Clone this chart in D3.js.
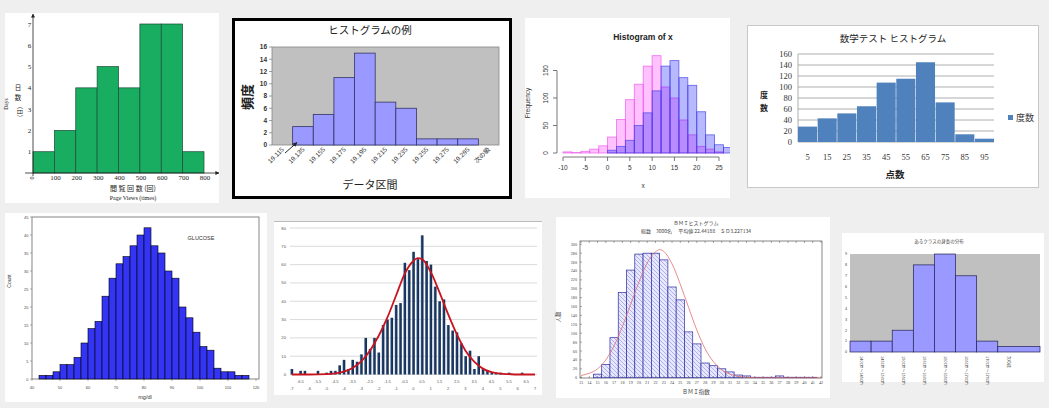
<!DOCTYPE html>
<html><head><meta charset="utf-8">
<script src="https://cdn.jsdelivr.net/npm/d3@7"></script>
<style>body{margin:0;background:#efefef;overflow:hidden} svg{display:block}</style>
</head><body><svg id="c" width="1049" height="408"></svg>
<script>
// ---------- Panel 1: page views ----------
const p1Edges = [0,100,200,300,400,500,600,700,800];
const p1Counts = [1,2,4,5,4,7,7,1];
const p1YTicks = [1,2,3,4,5,6,7];
const p1XTicks = [100,200,300,400,500,600,700,800];
// ---------- Panel 2: ヒストグラムの例 ----------
const p2Cats = ["19.115","19.135","19.155","19.175","19.195","19.215","19.235","19.255","19.275","19.295","次の級"];
const p2Counts = [0,3,5,11,15,7,6,1,1,1,0];
const p2YTicks = [0,2,4,6,8,10,12,14,16];
// ---------- Panel 3: Histogram of x ----------
const p3BinStarts = [-10,-8,-6,-4,-2,0,2,4,6,8,10,12,14,16,18,20,22,24,26];
const p3Pink = [2,1,3,7,13,29,61,97,125,158,177,120,100,60,33,12,7,2,0];
const p3Blue = [0,0,0,0,0,5,12,23,50,73,113,158,168,137,123,75,33,15,10];
const p3YTicks = [0,50,100,150];
const p3XTicks = [-10,-5,0,5,10,15,20,25];
// ---------- Panel 4: 数学テスト ----------
const p4Cats = ["5","15","25","35","45","55","65","75","85","95"];
const p4Counts = [28,43,52,65,108,115,145,72,14,6];
const p4YTicks = [0,20,40,60,80,100,120,140,160];
// ---------- Panel 5: GLUCOSE ----------
const p5BinStarts = [42.5,45,47.5,50,52.5,55,57.5,60,62.5,65,67.5,70,72.5,75,77.5,80,82.5,85,87.5,90,92.5,95,97.5,100,102.5,105,107.5,110,112.5,115];
const p5Counts = [1,1,2,4,4,6,10,14,16,23,28,32,34,37,40,42,37,35,30,28,20,17,13,9,8,3,2,2,1,1];
const p5YTicks = [0,5,10,15,20,25,30,35,40,45];
const p5XTicks = [40,50,60,70,80,90,100,110,120];
// ---------- Panel 6: normal sample ----------
const p6Centers = [-7,-6.75,-6.5,-6.25,-6,-5.75,-5.5,-5.25,-5,-4.75,-4.5,-4.25,-4,-3.75,-3.5,-3.25,-3,-2.75,-2.5,-2.25,-2,-1.75,-1.5,-1.25,-1,-0.75,-0.5,-0.25,0,0.25,0.5,0.75,1,1.25,1.5,1.75,2,2.25,2.5,2.75,3,3.25,3.5,3.75,4,4.25,4.5,4.75,5,5.25,5.5,5.75,6,6.25,6.5,6.75];
const p6Counts = [3,0,2,2,0,0,2,0,1,2,2,5,8,3,8,7,11,20,14,20,12,27,30,31,38,39,61,57,67,63,76,62,60,48,40,41,27,24,23,17,10,13,3,10,3,2,1,1,1,0,1,0,0,1,0,0];
const p6CurveX = [-7,-6,-5,-4.5,-4,-3.5,-3,-2.5,-2,-1.5,-1,-0.5,0,0.25,0.5,1,1.5,2,2.5,3,3.5,4,4.5,5,5.5,6,7];
const p6CurveY = [0,0,0.2,0.6,1.6,3.6,7.2,13,21,31,43,55,62,63.5,63,56,45,33,22,13,7,3.2,1.3,0.5,0.2,0,0];
const p6YTicks = [0,10,20,30,40,50,60,70,80];
const p6XMajor = [-7,-6,-5,-4,-3,-2,-1,0,1,2,3,4,5,6,7];
const p6XHalf = [-6.5,-5.5,-4.5,-3.5,-2.5,-1.5,-0.5,0.5,1.5,2.5,3.5,4.5,5.5,6.5];
// ---------- Panel 7: BMI ----------
const p7Centers = [13,14,15,16,17,18,19,20,21,22,23,24,25,26,27,28,29,30,31,32,33,34,35,36,37,38,39,40,41];
const p7Counts = [0,0,8,30,90,192,242,278,280,280,265,204,175,103,76,33,27,20,13,6,4,1,1,1,4,1,1,1,1];
const p7CurveX = [13,14,15,16,17,18,19,20,21,22,22.5,23,24,25,26,27,28,29,30,31,32,33,35,42];
const p7CurveY = [5,10,20,40,72,115,165,215,258,283,288,284,256,210,158,107,65,36,18,8,3,1,0,0];
const p7YTicks = [0,20,40,60,80,100,120,140,160,180,200,220,240,260,280,300];
const p7XTicks = [13,14,15,16,17,18,19,20,21,22,23,24,25,26,27,28,29,30,31,32,33,34,35,36,37,38,39,40,41,42];
// ---------- Panel 8: 身長の分布 ----------
const p8Cats = ["140cm～145cm","145cm～150cm","150cm～155cm","155cm～160cm","160cm～165cm","165cm～170cm","170cm～175cm","次の級",""];
const p8Counts = [1,1,2,8,9,7,1,0.5];
const p8YTicks = [0,1,2,3,4,5,6,7,8,9];

const svg = d3.select("#c");
const JP = "'Noto Sans CJK JP', sans-serif";
const SANS = "'Liberation Sans', Arial, sans-serif";
const SERIF = "'Liberation Serif', serif";
svg.append("rect").attr("width",1049).attr("height",408).attr("fill","#efefef");
const defs = svg.append("defs");
function marker(id, color){
  defs.append("marker").attr("id",id).attr("viewBox","0 0 10 10").attr("refX",9).attr("refY",5)
    .attr("markerWidth",5).attr("markerHeight",5).attr("orient","auto")
    .append("path").attr("d","M0,0L10,5L0,10z").attr("fill",color);
}
marker("arr","#222");
const grad = defs.append("linearGradient").attr("id","p6g").attr("x1",0).attr("x2",1).attr("y1",0).attr("y2",0);
grad.append("stop").attr("offset","0%").attr("stop-color","#a9bedb");
grad.append("stop").attr("offset","35%").attr("stop-color","#1f3d68");
grad.append("stop").attr("offset","100%").attr("stop-color","#142b4d");
const pat = defs.append("pattern").attr("id","hatch").attr("patternUnits","userSpaceOnUse").attr("width",4).attr("height",4);
pat.append("rect").attr("width",4).attr("height",4).attr("fill","#e8e8fc");
pat.append("path").attr("d","M-1,-1L5,5M-1,3L1,5M3,-1L5,1").attr("stroke","#8c8ce8").attr("stroke-width",0.6);

function card(x,y,w,h,stroke){
  svg.append("rect").attr("x",x).attr("y",y).attr("width",w).attr("height",h)
    .attr("fill","#fff").attr("stroke",stroke||"none").attr("stroke-width",1);
}
function txt(g,x,y,s,size,opts){
  opts=opts||{};
  const t=g.append("text").attr("x",x).attr("y",y).text(s).attr("font-size",size)
    .attr("font-family",opts.font||SANS).attr("text-anchor",opts.anchor||"middle")
    .attr("fill",opts.fill||"#222");
  if(opts.weight) t.attr("font-weight",opts.weight);
  if(opts.rotate!==undefined) t.attr("transform",`rotate(${opts.rotate},${x},${y})`);
  return t;
}

// ===== Panel 1 =====
{
  card(5,13,214,190);
  const g = svg.append("g");
  const x = d3.scaleLinear().domain([0,800]).range([33,204]);
  const y = d3.scaleLinear().domain([0,7]).range([173,24]);
  g.selectAll("rect").data(p1Counts).join("rect")
    .attr("x",(d,i)=>x(p1Edges[i])).attr("width",(d,i)=>x(p1Edges[i+1])-x(p1Edges[i]))
    .attr("y",d=>y(d)).attr("height",d=>y(0)-y(d))
    .attr("fill","#19ad61").attr("stroke","#1d4a36").attr("stroke-width",0.7);
  g.append("line").attr("x1",x(0)).attr("x2",x(0)).attr("y1",y(0)+3).attr("y2",14)
    .attr("stroke","#222").attr("stroke-width",0.8).attr("marker-end","url(#arr)");
  g.append("line").attr("x1",25).attr("x2",219).attr("y1",y(0)).attr("y2",y(0))
    .attr("stroke","#222").attr("stroke-width",0.8).attr("marker-end","url(#arr)");
  p1YTicks.forEach(v=>txt(g,29.5,y(v)+2.5,v,7,{font:SERIF}));
  p1XTicks.forEach(v=>txt(g,x(v)+1,180,v,7,{font:SERIF}));
  txt(g,30,178,"0",6,{font:SERIF,rotate:90});
  txt(g,18,90,"日",6.5,{font:JP});
  txt(g,18,100,"数",6.5,{font:JP});
  txt(g,18,112,"(日)",6,{font:JP,rotate:90});
  txt(g,8,104,"Days",5.5,{font:SERIF,rotate:-90});
  txt(g,133,191,"閲 覧 回 数  (回)",7,{font:JP});
  txt(g,133,200,"Page Views (times)",6,{font:SERIF});
}

// ===== Panel 2 =====
{
  svg.append("rect").attr("x",233.5).attr("y",19.5).attr("width",277).attr("height",178)
    .attr("fill","#fff").attr("stroke","#000").attr("stroke-width",3);
  const g = svg.append("g");
  const x = d3.scaleBand().domain(p2Cats).range([272,499]);
  const y = d3.scaleLinear().domain([0,16]).range([145,47]);
  g.append("rect").attr("x",272).attr("y",47).attr("width",227).attr("height",98)
    .attr("fill","#c0c0c0").attr("stroke","#888").attr("stroke-width",0.8);
  g.selectAll("rect.b").data(p2Counts).join("rect").attr("class","b")
    .attr("x",(d,i)=>x(p2Cats[i])).attr("width",x.bandwidth())
    .attr("y",d=>y(d)).attr("height",d=>y(0)-y(d))
    .attr("fill","#9999ff").attr("stroke","#333366").attr("stroke-width",0.8)
    .attr("display",d=>d>0?null:"none");
  p2YTicks.forEach(v=>{
    txt(g,267,y(v)+2.3,v,6.5,{anchor:"end",weight:"bold",fill:"#333"});
    g.append("line").attr("x1",269).attr("x2",272).attr("y1",y(v)).attr("y2",y(v)).attr("stroke","#666").attr("stroke-width",0.6);
  });
  p2Cats.forEach(c=>{
    const cx = x(c)+x.bandwidth()/2 + 2, cy = 150;
    txt(g,cx,cy,c,6.5,{anchor:"end",rotate:-45,font:c==="次の級"?JP:SANS,fill:"#333"});
  });
  g.append("line").attr("x1",285).attr("y1",153).attr("x2",297).attr("y2",142.5)
    .attr("stroke","#111").attr("stroke-width",0.9).attr("marker-end","url(#arr)");
  txt(g,370,34,"ヒストグラムの例",10.5,{font:JP});
  txt(g,252,97,"頻度",13,{font:JP,weight:"bold",rotate:-90});
  txt(g,370,189,"データ区間",11,{font:JP});
}

// ===== Panel 3 =====
{
  card(525,18,205,180);
  const g = svg.append("g");
  const clip = defs.append("clipPath").attr("id","c3"); clip.append("rect").attr("x",525).attr("y",18).attr("width",205).attr("height",180);
  const x = d3.scaleLinear().domain([-10,25]).range([563,719]);
  const y = d3.scaleLinear().domain([0,150]).range([153,70.5]);
  const bars = g.append("g").attr("clip-path","url(#c3)");
  bars.selectAll("rect.p").data(p3Pink).join("rect").attr("class","p")
    .attr("x",(d,i)=>x(p3BinStarts[i])).attr("width",(d,i)=>x(p3BinStarts[i]+2)-x(p3BinStarts[i]))
    .attr("y",d=>y(d)).attr("height",d=>y(0)-y(d))
    .attr("fill","rgba(255,0,255,0.24)").attr("stroke","rgba(235,90,235,0.75)").attr("stroke-width",0.9)
    .attr("display",d=>d>0?null:"none");
  bars.selectAll("rect.q").data(p3Blue).join("rect").attr("class","q")
    .attr("x",(d,i)=>x(p3BinStarts[i])).attr("width",(d,i)=>x(p3BinStarts[i]+2)-x(p3BinStarts[i]))
    .attr("y",d=>y(d)).attr("height",d=>y(0)-y(d))
    .attr("fill","rgba(0,0,255,0.28)").attr("stroke","rgba(70,70,230,0.75)").attr("stroke-width",0.9)
    .attr("display",d=>d>0?null:"none");
  g.append("line").attr("x1",557).attr("x2",557).attr("y1",y(0)).attr("y2",y(150)).attr("stroke","#555").attr("stroke-width",0.8);
  p3YTicks.forEach(v=>{
    g.append("line").attr("x1",553).attr("x2",557).attr("y1",y(v)).attr("y2",y(v)).attr("stroke","#555").attr("stroke-width",0.8);
    txt(g,548,y(v),v,6.5,{rotate:-90,fill:"#333"});
  });
  g.append("line").attr("x1",x(-10)).attr("x2",x(25)).attr("y1",157).attr("y2",157).attr("stroke","#555").attr("stroke-width",0.8);
  p3XTicks.forEach(v=>{
    g.append("line").attr("x1",x(v)).attr("x2",x(v)).attr("y1",157).attr("y2",161).attr("stroke","#555").attr("stroke-width",0.8);
    txt(g,x(v),170,v,6.5,{fill:"#333"});
  });
  txt(g,643,40,"Histogram of x",8.5,{weight:"bold"});
  txt(g,643,188,"x",6.5,{fill:"#333"});
  txt(g,530,103,"Frequency",6.5,{rotate:-90,fill:"#333"});
}

// ===== Panel 4 =====
{
  card(747.5,25.5,291,162,"#c8c8c8");
  const g = svg.append("g");
  const x = d3.scaleBand().domain(p4Cats).range([798,994]).paddingInner(0.03);
  const y = d3.scaleLinear().domain([0,160]).range([142,54]);
  p4YTicks.forEach(v=>{
    g.append("line").attr("x1",798).attr("x2",994).attr("y1",y(v)).attr("y2",y(v)).attr("stroke","#999").attr("stroke-width",0.8);
    txt(g,792,y(v)+3,v,8.5,{anchor:"end",font:SERIF,fill:"#333"});
  });
  g.append("line").attr("x1",798).attr("x2",798).attr("y1",54).attr("y2",142).attr("stroke","#999").attr("stroke-width",0.8);
  g.selectAll("rect").data(p4Counts).join("rect")
    .attr("x",(d,i)=>x(p4Cats[i])).attr("width",x.bandwidth())
    .attr("y",d=>y(d)).attr("height",d=>y(0)-y(d)).attr("fill","#4f81bd");
  p4Cats.forEach(c=>txt(g,x(c)+x.bandwidth()/2,160,c,8.5,{font:SERIF,fill:"#333"}));
  txt(g,893,42,"数学テスト ヒストグラム",9.5,{font:JP});
  txt(g,895,178,"点数",9.5,{font:JP,weight:"bold"});
  txt(g,764,98,"度",8,{font:JP,weight:"bold"});
  txt(g,764,111,"数",8,{font:JP,weight:"bold"});
  g.append("rect").attr("x",1008).attr("y",115).attr("width",5).attr("height",5).attr("fill","#4f81bd");
  txt(g,1016,121,"度数",9,{font:JP,anchor:"start",fill:"#333"});
}

// ===== Panel 5 =====
{
  card(5,213,262,189);
  const g = svg.append("g");
  const x = d3.scaleLinear().domain([40,120]).range([32,256]);
  const y = d3.scaleLinear().domain([0,45]).range([379,217]);
  g.append("rect").attr("x",32).attr("y",217).attr("width",227).attr("height",162).attr("fill","none").attr("stroke","#666").attr("stroke-width",0.8);
  g.selectAll("rect.b").data(p5Counts).join("rect").attr("class","b")
    .attr("x",(d,i)=>x(p5BinStarts[i])).attr("width",(d,i)=>x(p5BinStarts[i]+2.5)-x(p5BinStarts[i]))
    .attr("y",d=>y(d)).attr("height",d=>y(0)-y(d))
    .attr("fill","#3434f4").attr("stroke","#000").attr("stroke-width",0.6);
  p5YTicks.forEach(v=>{
    g.append("line").attr("x1",30).attr("x2",32).attr("y1",y(v)).attr("y2",y(v)).attr("stroke","#666").attr("stroke-width",0.5);
    txt(g,28.5,y(v)+1.5,v,4,{anchor:"end",fill:"#444"});
  });
  p5XTicks.forEach(v=>{
    g.append("line").attr("x1",x(v)).attr("x2",x(v)).attr("y1",379).attr("y2",381).attr("stroke","#666").attr("stroke-width",0.5);
    txt(g,x(v),389,v,4,{fill:"#444"});
  });
  txt(g,201,240,"GLUCOSE",5.5,{fill:"#333"});
  txt(g,145,399,"mg/dl",5.5,{fill:"#333"});
  txt(g,11,281,"Count",5,{rotate:-90,fill:"#333"});
}

// ===== Panel 6 =====
{
  card(274,221,268,174);
  svg.append("line").attr("x1",274).attr("x2",542).attr("y1",221.5).attr("y2",221.5).attr("stroke","#bbb");
  const g = svg.append("g");
  const x = d3.scaleLinear().domain([-7,7]).range([291.7,535]);
  const y = d3.scaleLinear().domain([0,80]).range([374.5,228]);
  p6YTicks.forEach(v=>{
    g.append("line").attr("x1",290).attr("x2",537).attr("y1",y(v)).attr("y2",y(v)).attr("stroke","#d0d0d0").attr("stroke-width",0.8);
    txt(g,286,y(v)+1.5,v,4.2,{anchor:"end",fill:"#555"});
  });
  const bw = x(0.17)-x(0);
  g.selectAll("rect").data(p6Counts).join("rect")
    .attr("x",(d,i)=>x(p6Centers[i])-bw/2).attr("width",bw)
    .attr("y",d=>y(d)).attr("height",d=>y(0)-y(d)).attr("fill","url(#p6g)")
    .attr("display",d=>d>0?null:"none");
  const line = d3.line().x(d=>x(d[0])).y(d=>y(d[1])).curve(d3.curveMonotoneX);
  g.append("path").attr("d",line(p6CurveX.map((v,i)=>[v,p6CurveY[i]])))
    .attr("fill","none").attr("stroke","#c8141e").attr("stroke-width",1.8);
  p6XHalf.forEach(v=>txt(g,x(v),383,v,4,{fill:"#555"}));
  p6XMajor.forEach(v=>txt(g,x(v),389.5,v,4,{fill:"#555"}));
}

// ===== Panel 7 =====
{
  card(556,217,274,181);
  const g = svg.append("g");
  const x = d3.scaleLinear().domain([13,42]).range([581,821]);
  const y = d3.scaleLinear().domain([0,300]).range([377.7,244.3]);
  g.append("rect").attr("x",580).attr("y",241).attr("width",242).attr("height",137).attr("fill","none").attr("stroke","#555").attr("stroke-width",0.7);
  g.selectAll("rect.b").data(p7Counts).join("rect").attr("class","b")
    .attr("x",(d,i)=>x(p7Centers[i]-0.5)).attr("width",(d,i)=>x(p7Centers[i]+0.5)-x(p7Centers[i]-0.5))
    .attr("y",d=>y(d)).attr("height",d=>y(0)-y(d))
    .attr("fill","url(#hatch)").attr("stroke","#2a2aa0").attr("stroke-width",0.7)
    .attr("display",d=>d>0?null:"none");
  const line = d3.line().x(d=>x(d[0])).y(d=>y(d[1])).curve(d3.curveMonotoneX);
  g.append("path").attr("d",line(p7CurveX.map((v,i)=>[v,p7CurveY[i]])))
    .attr("fill","none").attr("stroke","#e07070").attr("stroke-width",0.8);
  p7YTicks.forEach(v=>{
    g.append("line").attr("x1",580).attr("x2",582).attr("y1",y(v)).attr("y2",y(v)).attr("stroke","#555").attr("stroke-width",0.5);
    txt(g,577,y(v)+1.5,v,4.2,{anchor:"end",fill:"#444",font:SERIF});
  });
  p7XTicks.forEach(v=>{
    g.append("line").attr("x1",x(v)).attr("x2",x(v)).attr("y1",241).attr("y2",243).attr("stroke","#555").attr("stroke-width",0.5);
    g.append("line").attr("x1",x(v)).attr("x2",x(v)).attr("y1",376).attr("y2",378).attr("stroke","#555").attr("stroke-width",0.5);
    txt(g,x(v),384,v,4.2,{fill:"#444",font:SERIF});
  });
  txt(g,696,225,"ＢＭＩヒストグラム",5,{font:JP,fill:"#444"});
  txt(g,696,233,"総数　3000名　 平均値 22.44188　ＳＤ3.227134",5,{font:JP,fill:"#444"});
  txt(g,560,317,"人数",5.5,{font:JP,rotate:-90,fill:"#444"});
  txt(g,696,394,"ＢＭＩ指数",5.5,{font:JP,fill:"#444"});
}

// ===== Panel 8 =====
{
  card(842,233,202,149);
  const g = svg.append("g");
  const x = d3.scaleBand().domain(p8Cats).range([850,1040]);
  const y = d3.scaleLinear().domain([0,9]).range([352,254]);
  g.append("rect").attr("x",850).attr("y",254).attr("width",190).attr("height",98).attr("fill","#c0c0c0");
  g.selectAll("rect.b").data(p8Counts).join("rect").attr("class","b")
    .attr("x",(d,i)=>x(p8Cats[i])).attr("width",(d,i)=>i===p8Counts.length-1?1040-x(p8Cats[i]):x.bandwidth())
    .attr("y",d=>y(d)).attr("height",d=>y(0)-y(d))
    .attr("fill","#9999ff").attr("stroke","#222255").attr("stroke-width",0.7);
  p8YTicks.forEach(v=>txt(g,847,y(v)+1.3,v,3.8,{anchor:"end",fill:"#444"}));
  p8Cats.forEach(c=>{ if(c) txt(g,x(c)+x.bandwidth()/2-1,356,c,4,{font:JP,anchor:"start",rotate:90,fill:"#444"}); });
  txt(g,939,243,"あるクラスの身長の分布",4.5,{font:JP,fill:"#444"});
}
</script></body></html>
